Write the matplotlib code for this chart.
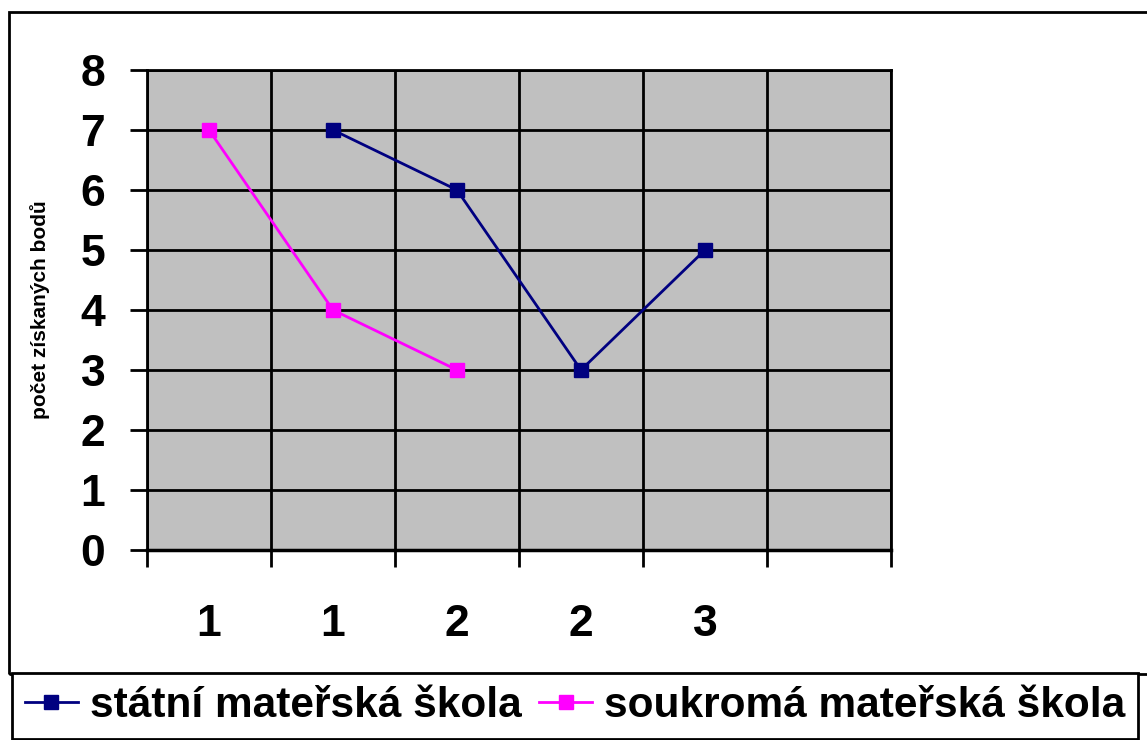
import matplotlib.pyplot as plt
import matplotlib.patches as patches
import numpy as np

# values
categories = ["1", "1", "2", "2", "3", ""]
statni = [np.nan, 7, 6, 3, 5, np.nan]
soukroma = [7, 4, 3, np.nan, np.nan, np.nan]
series_names = ["státní mateřská škola", "soukromá mateřská škola"]

plt.rcParams["font.family"] = ["Liberation Sans", "DejaVu Sans"]
plt.rcParams["font.weight"] = "bold"

fig = plt.figure(figsize=(11.47, 7.40), dpi=100)
ax = fig.add_axes([147 / 1147, 1 - 550 / 740, 744 / 1147, 480 / 740])
ax.set_facecolor("#C0C0C0")

x = np.arange(len(categories)) + 0.5
ax.plot(x, statni, color="#000080", lw=2, marker="s", ms=10, label=series_names[0])
ax.plot(x, soukroma, color="#FF00FF", lw=2, marker="s", ms=10, label=series_names[1])

ax.set_xlim(0, len(categories))
ax.set_ylim(0, 8)

# gridlines at category boundaries and integer values
ax.set_xticks(np.arange(len(categories) + 1))
ax.set_xticklabels([])
ax.set_xticks(x, minor=True)
ax.set_xticklabels(categories, minor=True)
ax.tick_params(axis="x", which="minor", length=0, pad=39, labelsize=32)
ax.tick_params(axis="x", which="major", length=12, width=2, color="black")
ax.set_yticks(range(9))
ax.tick_params(axis="y", length=12, width=2, pad=18, labelsize=32)
for lbl in ax.get_xticklabels(minor=True) + ax.get_yticklabels():
    lbl.set_fontweight("bold")
ax.grid(True, which="major", color="black", lw=2)
ax.set_axisbelow(True)
for s in ax.spines.values():
    s.set_linewidth(2)
ax.spines["bottom"].set_linewidth(2.5)

ax.set_ylabel("počet získaných bodů", fontsize=15, fontweight="bold")
ax.yaxis.set_label_coords((50 - 147) / 744, 0.5)

# outer chart border and legend box
fig.add_artist(patches.Rectangle((9 / 1147, 1 - 674 / 740), 1.2, 662 / 740,
                                 transform=fig.transFigure, fill=False,
                                 edgecolor="black", lw=2, clip_on=False))
leg = fig.legend(loc="center", ncol=2, bbox_to_anchor=(575 / 1147, 1 - 706 / 740),
                 prop={"size": 30.5, "weight": "bold"}, handlelength=1.25,
                 handletextpad=0.28, columnspacing=0.42, borderaxespad=0,
                 fancybox=False, edgecolor="black", framealpha=1, borderpad=0.3)
leg.get_frame().set_linewidth(2)

fig.savefig("out.png", dpi=100)
